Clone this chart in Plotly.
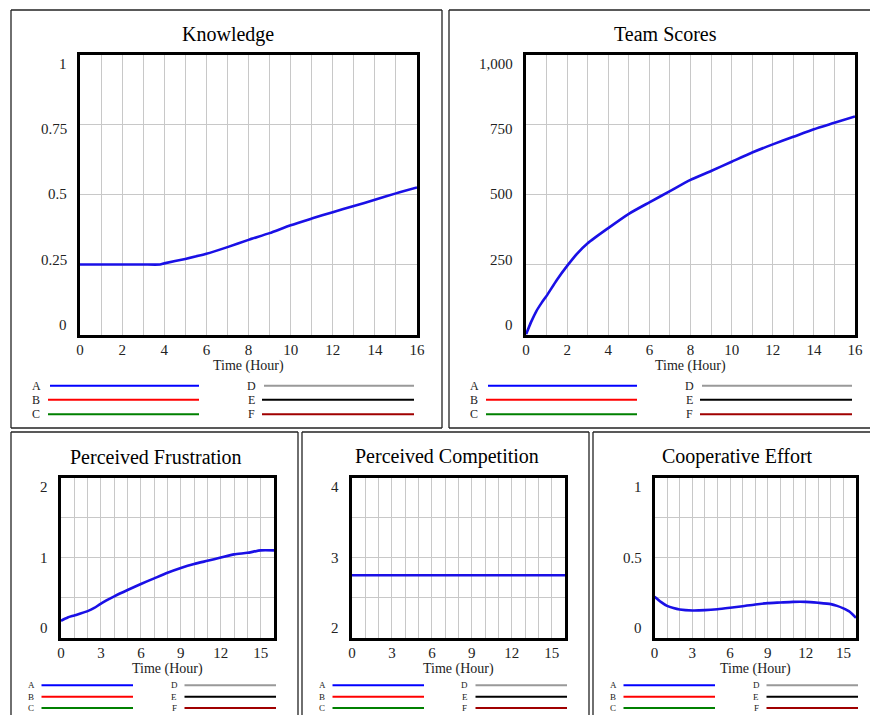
import plotly.graph_objects as go

W, H = 870, 715
FONT = "Liberation Serif, Times New Roman, serif"

# ---------------- data ----------------
time_knowledge = [0, 1, 2, 3, 3.8, 4, 5, 6, 7, 8, 9, 10, 11, 12, 13, 14, 15, 16]
knowledge = [0.25, 0.25, 0.25, 0.25, 0.25, 0.254, 0.27, 0.288, 0.312, 0.338, 0.362,
             0.39, 0.414, 0.437, 0.459, 0.481, 0.504, 0.525]

time_scores = [0, 0.25, 0.5, 0.75, 1, 1.5, 2, 2.5, 3, 4, 5, 6, 7, 8, 9, 10, 11, 12,
               13, 14, 15, 16]
team_scores = [0, 45, 83, 112, 138, 195, 245, 290, 326, 380, 431, 472, 512, 552, 584,
               617, 650, 679, 706, 733, 756, 779]

time_frustration = [0, 0.5, 1, 2, 2.5, 3, 4, 5, 6, 7, 8, 9, 10, 11, 12, 13, 14, 15, 16]
frustration = [0.21, 0.25, 0.276, 0.33, 0.37, 0.425, 0.515, 0.595, 0.67, 0.74, 0.81,
               0.87, 0.92, 0.96, 1.0, 1.04, 1.06, 1.09, 1.09]

time_competition = [0, 16]
competition = [2.78, 2.78]

time_cooperative = [0, 0.5, 1, 1.5, 2, 3, 4, 5, 6, 7, 8, 9, 10, 11, 12, 13, 14, 14.5,
                    15, 15.5, 16]
cooperative = [0.255, 0.223, 0.198, 0.184, 0.175, 0.169, 0.171, 0.177, 0.186, 0.196,
               0.207, 0.215, 0.219, 0.223, 0.223, 0.217, 0.209, 0.198, 0.182, 0.161,
               0.123]

titles = ["Knowledge", "Team Scores", "Perceived Frustration", "Perceived Competition",
          "Cooperative Effort"]
y_ranges = [[0, 1], [0, 1000], [0, 2], [2, 4], [0, 1]]
y_grid_steps = [0.25, 250, 0.5, 0.5, 0.25]
y_tick_values = [[1, 0.75, 0.5, 0.25, 0], [1000, 750, 500, 250, 0], [2, 1, 0],
                 [4, 3, 2], [1, 0.5, 0]]
y_tick_labels = [["1", "0.75", "0.5", "0.25", "0"], ["1,000", "750", "500", "250", "0"],
                 ["2", "1", "0"], ["4", "3", "2"], ["1", "0.5", "0"]]
x_tick_steps = [2, 2, 3, 3, 3]
x_title = "Time (Hour)"
legend_names = ["A", "B", "C", "D", "E", "F"]
legend_colors = ["#0000ff", "#ff0000", "#008000", "#999999", "#000000", "#a00000"]

series_x = [time_knowledge, time_scores, time_frustration, time_competition, time_cooperative]
series_y = [knowledge, team_scores, frustration, competition, cooperative]

# ---------------- layout geometry (pixels) ----------------
# panel boxes: left, top, right, bottom (right/bottom beyond the figure are not drawn)
boxes = [(11, 10, 442, 428), (449, 10, 880, 428), (11, 432, 298, 760),
         (302, 432, 589, 760), (593, 432, 880, 760)]
# plot areas: left, top, right, bottom
plots = [(80, 54.5, 417, 334.5), (526, 54.5, 855, 334.5), (61, 477.7, 274, 637.5),
         (352, 477.7, 565, 637.5), (654.5, 477.7, 856, 637.5)]
title_pos = [(228, 34), (665.5, 34), (155.8, 456.7), (447, 456.7), (737.2, 456.7)]


def px(x):
    return min(max(x, 0), W) / W


def py(y):
    return 1 - min(max(y, 0), H) / H


def edge(x0, y0, x1, y1, color="#222", width=1.3):
    return dict(type="line", xref="paper", yref="paper", x0=px(x0), x1=px(x1),
                y0=py(y0), y1=py(y1), line=dict(color=color, width=width))


fig = go.Figure()
layout = dict(width=W, height=H, autosize=False,
              margin=dict(l=0, r=0, t=0, b=0, pad=0, autoexpand=False),
              paper_bgcolor="white", plot_bgcolor="white", showlegend=False,
              font=dict(family=FONT, color="black"))
annotations = []
shapes = []

for i in range(5):
    sfx = "" if i == 0 else str(i + 1)
    xa, ya = "x" + sfx, "y" + sfx
    L, T, R, B = plots[i]
    fig.add_trace(go.Scatter(x=series_x[i], y=series_y[i], mode="lines",
                             line=dict(color="#1a10e6", width=2.6, shape="spline",
                                       smoothing=0.6),
                             xaxis=xa, yaxis=ya, hoverinfo="skip"))
    layout["xaxis" + sfx] = dict(
        domain=[L / W, R / W], anchor=ya, range=[0, 16], tick0=0, dtick=x_tick_steps[i],
        showgrid=True, gridcolor="#c8c8c8", gridwidth=1, zeroline=False,
        showline=True, mirror=True, linecolor="black", linewidth=2.5,
        ticks="", tickfont=dict(family=FONT, size=15, color="#222"), automargin=False,
        minor=dict(dtick=1, tick0=0, showgrid=True, gridcolor="#c8c8c8", gridwidth=1),
        fixedrange=True)
    yr = y_ranges[i]
    layout["yaxis" + sfx] = dict(
        domain=[1 - B / H, 1 - T / H], anchor=xa, range=yr, tick0=yr[0],
        dtick=y_grid_steps[i], automargin=False,
        showgrid=True, gridcolor="#c8c8c8", gridwidth=1, zeroline=False,
        showline=True, mirror=True, linecolor="black", linewidth=2.5,
        showticklabels=False, ticks="", fixedrange=True)
    # y tick labels (Vensim style: pulled inward at ends)
    for v, lab in zip(y_tick_values[i], y_tick_labels[i]):
        f = (v - yr[0]) / (yr[1] - yr[0])
        annotations.append(dict(text=lab, xref=xa + " domain", x=0, xanchor="right",
                                xshift=-11, yref=ya, y=v, yanchor="middle",
                                yshift=9.5 - 19 * f, showarrow=False,
                                font=dict(family=FONT, size=15, color="#222")))
    # x axis title
    annotations.append(dict(text=x_title, xref=xa + " domain", x=0.5, xanchor="center",
                            yref=ya + " domain", y=0, yanchor="middle", yshift=-31,
                            showarrow=False,
                            font=dict(family=FONT, size=14, color="#222")))
    # panel title
    tx, ty = title_pos[i]
    annotations.append(dict(text=titles[i], xref="paper", yref="paper", x=px(tx),
                            y=py(ty), xanchor="center", yanchor="middle",
                            showarrow=False, font=dict(family=FONT, size=20, color="black")))
    # panel box (only edges inside the figure)
    bl, bt, br, bb = boxes[i]
    shapes.append(edge(bl, bt, br, bt))
    shapes.append(edge(bl, bt, bl, bb))
    if br <= W:
        shapes.append(edge(br, bt, br, bb))
    if bb <= H:
        shapes.append(edge(bl, bb, br, bb))
    # legend
    if i < 2:
        rows = [bt + 375.7, bt + 389.7, bt + 404.3]
        col_letter = [bl + 25, bl + 240]
        col_start = [[bl + 39, bl + 37, bl + 37], [bl + 253, bl + 251, bl + 251]]
        col_end = [bl + 188, bl + 403]
        lsize, lw = 12, 2
    else:
        rows = [bt + 253.3, bt + 264.7, bt + 276]
        col_letter = [bl + 20, bl + 163]
        col_start = [[bl + 30.5] * 3, [bl + 173.5] * 3]
        col_end = [bl + 122, bl + 265]
        lsize, lw = 9, 2
    for k, (name, col) in enumerate(zip(legend_names, legend_colors)):
        c, r = divmod(k, 3)
        annotations.append(dict(text=name, xref="paper", yref="paper",
                                x=px(col_letter[c]), y=py(rows[r]), xanchor="center",
                                yanchor="middle", showarrow=False,
                                font=dict(family=FONT, size=lsize, color="#222")))
        shapes.append(edge(col_start[c][r], rows[r], col_end[c], rows[r],
                           color=col, width=lw))

layout["annotations"] = annotations
layout["shapes"] = shapes
fig.update_layout(**layout)
fig.write_html("out.html", config={"displayModeBar": False},
               post_script="document.body.style.margin='0';"
                           "document.body.style.overflow='hidden';")
